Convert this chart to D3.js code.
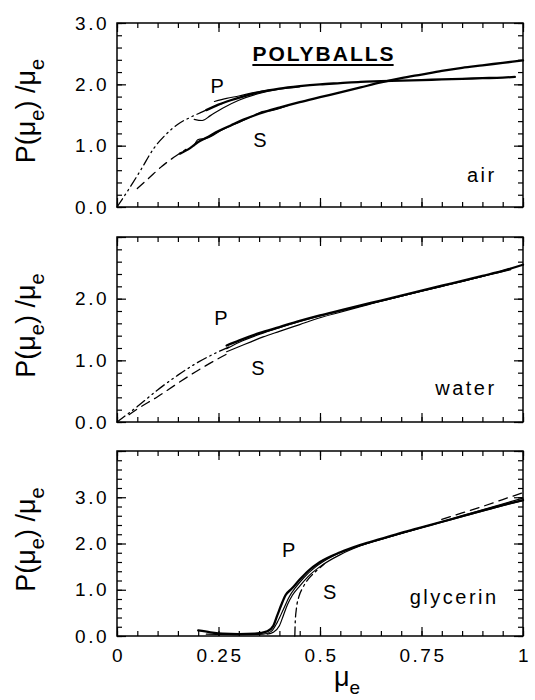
<!DOCTYPE html>
<html>
  <head>
    <style>
      body {
        margin: 0;
        background: #fff;
      }
      svg {
        font-family: "Liberation Sans", Arial, sans-serif;
      }
      .frame {
        fill: none;
        stroke: #000;
        stroke-width: 1.5px;
      }
      .ticks .tick line {
        stroke: #000;
        stroke-width: 1.2px;
      }
      .ticks .domain, .lbl .domain, .lbl .tick line {
        display: none;
      }
      .lbl text {
        font-size: 19px;
        letter-spacing: 2.5px;
        fill: #000;
      }
      .run {
        fill: none;
        stroke: #000;
        stroke-linejoin: round;
        stroke-linecap: round;
      }
      .note {
        font-size: 20px;
        letter-spacing: 2.5px;
      }
    </style>
  </head>
  <body>
    <script src="https://d3js.org/d3.v7.min.js"></script>
    <script>
    // values: [mu_e, P(mu_e)/mu_e]
    var panelNames = ["air", "water", "glycerin"];
    var yMax = [3, 3, 4];
    var yTickLabels = [["0.0", "1.0", "2.0", "3.0"], ["0.0", "1.0", "2.0"], ["0.0", "1.0", "2.0", "3.0"]];
    var xTickValues = [0, 0.25, 0.5, 0.75, 1];
    var xTickLabels = ["0", "0.25", "0.5", "0.75", "1"];

    // air
    var airPTheory = [[0, 0], [0.03, 0.3], [0.06, 0.62], [0.09, 0.95], [0.12, 1.18], [0.15, 1.35], [0.18, 1.46], [0.21, 1.55], [0.24, 1.64], [0.26, 1.69]];
    var airPRun1 = [[0.22, 1.58], [0.25, 1.67], [0.28, 1.74], [0.31, 1.8], [0.35, 1.87], [0.4, 1.93], [0.45, 1.97], [0.5, 2.0], [0.55, 2.02], [0.6, 2.04], [0.65, 2.05], [0.7, 2.06], [0.75, 2.07], [0.8, 2.08], [0.85, 2.09], [0.9, 2.1], [0.95, 2.11], [0.98, 2.12]];
    var airPRun2 = [[0.19, 1.43], [0.21, 1.41], [0.23, 1.49], [0.26, 1.61], [0.3, 1.74], [0.35, 1.85], [0.4, 1.92], [0.45, 1.96]];
    var airPRun3 = [[0.24, 1.72], [0.27, 1.77], [0.3, 1.81], [0.34, 1.87], [0.38, 1.91]];
    var airSTheory = [[0.05, 0.3], [0.08, 0.48], [0.11, 0.66], [0.14, 0.81], [0.17, 0.94]];
    var airSRun1 = [[0.155, 0.87], [0.18, 0.96], [0.2, 1.06], [0.22, 1.13], [0.25, 1.24], [0.28, 1.33], [0.31, 1.42], [0.35, 1.52], [0.4, 1.62], [0.45, 1.71], [0.5, 1.79], [0.55, 1.87], [0.6, 1.95], [0.65, 2.03], [0.7, 2.1], [0.75, 2.16], [0.8, 2.22], [0.85, 2.27], [0.9, 2.31], [0.95, 2.35], [1.0, 2.39]];
    var airSRun2 = [[0.19, 1.0], [0.2, 1.1], [0.22, 1.12], [0.26, 1.26], [0.3, 1.38], [0.34, 1.5], [0.36, 1.56], [0.38, 1.57], [0.42, 1.65]];

    // water
    var waterPTheory = [[0, 0], [0.05, 0.25], [0.1, 0.52], [0.15, 0.76], [0.2, 0.97], [0.25, 1.14], [0.28, 1.23]];
    var waterSTheory = [[0.03, 0.12], [0.05, 0.21], [0.1, 0.41], [0.15, 0.63], [0.2, 0.84], [0.25, 1.03], [0.27, 1.1]];
    var waterPRun1 = [[0.27, 1.24], [0.3, 1.32], [0.35, 1.44], [0.4, 1.54], [0.45, 1.64], [0.5, 1.73], [0.55, 1.81], [0.6, 1.89], [0.65, 1.97], [0.7, 2.05], [0.75, 2.13], [0.8, 2.21], [0.85, 2.29], [0.9, 2.37], [0.95, 2.45], [1.0, 2.55]];
    var waterPRun2 = [[0.27, 1.19], [0.3, 1.29], [0.35, 1.42], [0.4, 1.53], [0.45, 1.63], [0.5, 1.72], [0.6, 1.88], [0.7, 2.04], [0.8, 2.2], [0.9, 2.36], [0.97, 2.49]];
    var waterSRun1 = [[0.27, 1.14], [0.3, 1.22], [0.33, 1.3], [0.36, 1.38], [0.4, 1.47], [0.45, 1.58], [0.5, 1.69], [0.55, 1.78], [0.6, 1.87], [0.65, 1.96], [0.7, 2.04], [0.8, 2.2], [0.9, 2.36], [0.97, 2.47]];

    // glycerin
    var glyPRun1 = [[0.2, 0.12], [0.23, 0.08], [0.26, 0.05], [0.3, 0.04], [0.34, 0.05], [0.37, 0.1], [0.385, 0.22], [0.395, 0.45], [0.405, 0.68], [0.415, 0.88], [0.43, 1.02], [0.45, 1.22], [0.47, 1.4], [0.5, 1.6], [0.55, 1.81], [0.6, 1.97], [0.65, 2.1], [0.7, 2.23], [0.75, 2.35], [0.8, 2.47], [0.85, 2.59], [0.9, 2.71], [0.95, 2.83], [1.0, 2.94]];
    var glyPRun2 = [[0.22, 0.04], [0.3, 0.03], [0.36, 0.04], [0.38, 0.1], [0.395, 0.3], [0.41, 0.58], [0.425, 0.86], [0.44, 1.05], [0.46, 1.26], [0.49, 1.5], [0.53, 1.72], [0.58, 1.9], [0.65, 2.09], [0.75, 2.34], [0.85, 2.58], [0.95, 2.82], [1.0, 2.93]];
    var glySRun1 = [[0.37, 0.04], [0.385, 0.08], [0.4, 0.22], [0.41, 0.45], [0.42, 0.68], [0.432, 0.88], [0.45, 1.08], [0.47, 1.28], [0.5, 1.5], [0.55, 1.76], [0.6, 1.95], [0.7, 2.22], [0.8, 2.47], [0.9, 2.73], [1.0, 2.98]];
    var glySTheory = [[0.438, 0], [0.439, 0.3], [0.442, 0.6], [0.448, 0.85], [0.458, 1.05], [0.472, 1.24], [0.49, 1.4], [0.51, 1.55]];
    var glyUpper = [[0.8, 2.52], [0.85, 2.66], [0.9, 2.8], [0.95, 2.95], [1.0, 3.1]];

    var panelSeries = [
      [[airPTheory, "dashdotdot"], [airSTheory, "dashed"], [airPRun2, "thin"], [airPRun3, "thin"], [airPRun1, "thick"], [airSRun2, "thin"], [airSRun1, "thick"]],
      [[waterPTheory, "dashdotdot"], [waterSTheory, "dashed"], [waterSRun1, "thin"], [waterPRun2, "thin"], [waterPRun1, "thick"]],
      [[glyUpper, "dashed"], [glySTheory, "dashdot"], [glySRun1, "thin"], [glyPRun2, "thin"], [glyPRun1, "thick"]]
    ];

    // label spots, in data units
    var pLabelAt = [[0.25, 1.98], [0.259, 1.68], [0.426, 1.86]];
    var sLabelAt = [[0.355, 1.09], [0.35, 0.88], [0.527, 0.95]];
    var nameLabelAt = [[0.935, 0.41], [0.935, 0.44], [0.94, 0.69]];

    var styles = {
      thick: {w: 2.3, dash: null},
      thin: {w: 1.2, dash: null},
      dashed: {w: 1.3, dash: "9,6"},
      dashdotdot: {w: 1.3, dash: "10,4,1.5,4,1.5,4"},
      dashdot: {w: 1.3, dash: "9,4,2,4"}
    };

    var width = 535, height = 700;
    var left = 117, right = 523;
    var panelTop = [23, 237, 451], panelBottom = [207, 422, 636];

    var svg = d3.select("body").append("svg")
        .attr("width", width)
        .attr("height", height);

    var x_scale = d3.scaleLinear().domain([0, 1]).range([left, right]);
    var minorX = d3.range(0, 21).map(i => i * 0.05);
    var majorX = xTickValues;

    var line_generator = d3.line().curve(d3.curveMonotoneX);

    panelNames.forEach(function(name, i) {
      var y_scale = d3.scaleLinear().domain([0, yMax[i]]).range([panelBottom[i], panelTop[i]]);
      var g = svg.append("g");
      var minorY = d3.range(0, yMax[i] * 5 + 1).map(k => k * 0.2);
      var majorY = d3.range(0, yMax[i] + 1);

      // inward ticks on all four sides
      [[minorX, 5], [majorX, 9]].forEach(function(t) {
        g.append("g").attr("class", "ticks")
          .attr("transform", "translate(0," + panelBottom[i] + ")")
          .call(d3.axisBottom(x_scale).tickValues(t[0]).tickSize(-t[1]).tickFormat(""));
        g.append("g").attr("class", "ticks")
          .attr("transform", "translate(0," + panelTop[i] + ")")
          .call(d3.axisTop(x_scale).tickValues(t[0]).tickSize(-t[1]).tickFormat(""));
      });
      [[minorY, 5], [majorY, 9]].forEach(function(t) {
        g.append("g").attr("class", "ticks")
          .attr("transform", "translate(" + left + ",0)")
          .call(d3.axisLeft(y_scale).tickValues(t[0]).tickSize(-t[1]).tickFormat(""));
        g.append("g").attr("class", "ticks")
          .attr("transform", "translate(" + right + ",0)")
          .call(d3.axisRight(y_scale).tickValues(t[0]).tickSize(-t[1]).tickFormat(""));
      });

      g.append("rect").attr("class", "frame")
        .attr("x", left).attr("y", panelTop[i])
        .attr("width", right - left).attr("height", panelBottom[i] - panelTop[i]);

      // y tick labels
      var labs = yTickLabels[i];
      g.append("g").attr("class", "lbl")
        .attr("transform", "translate(" + (left - 8) + ",0)")
        .call(d3.axisLeft(y_scale).tickValues(labs.map(Number)).tickSize(0).tickPadding(0)
          .tickFormat((d, k) => labs[k]));

      if (i == 2) {
        g.append("g").attr("class", "lbl")
          .attr("transform", "translate(1," + (panelBottom[i] + 12) + ")")
          .call(d3.axisBottom(x_scale).tickValues(xTickValues).tickSize(0).tickPadding(0)
            .tickFormat((d, k) => xTickLabels[k]));
      }

      // curves
      line_generator.x(d => x_scale(d[0])).y(d => y_scale(d[1]));
      panelSeries[i].forEach(function(s) {
        var st = styles[s[1]];
        g.append("path").attr("class", "run")
          .attr("d", line_generator(s[0]))
          .attr("stroke-width", st.w)
          .attr("stroke-dasharray", st.dash);
      });

      // P / S / medium labels
      g.append("text").attr("class", "note")
        .attr("x", x_scale(pLabelAt[i][0])).attr("y", y_scale(pLabelAt[i][1]))
        .attr("text-anchor", "middle").attr("dominant-baseline", "central")
        .text("P");
      g.append("text").attr("class", "note")
        .attr("x", x_scale(sLabelAt[i][0])).attr("y", y_scale(sLabelAt[i][1]))
        .attr("text-anchor", "middle").attr("dominant-baseline", "central")
        .text("S");
      g.append("text").attr("class", "note")
        .attr("x", x_scale(nameLabelAt[i][0])).attr("y", y_scale(nameLabelAt[i][1]))
        .attr("text-anchor", "end")
        .text(name);

      // rotated y title
      var yt = svg.append("text")
        .attr("transform", "translate(35," + ((panelTop[i] + panelBottom[i]) / 2 - 4) + ") rotate(-90)")
        .attr("text-anchor", "middle")
        .style("font-size", "27px")
        .style("white-space", "pre");
      yt.append("tspan").text("P(\u03bc");
      yt.append("tspan").attr("dy", 9).style("font-size", "20px").text("e");
      yt.append("tspan").attr("dy", -9).text(") /\u03bc");
      yt.append("tspan").attr("dy", 9).style("font-size", "20px").text("e");
    });

    // title in the first panel
    var title = svg.append("text")
      .attr("x", 324).attr("y", 61)
      .attr("text-anchor", "middle")
      .style("font-size", "21px").style("font-weight", "bold").style("letter-spacing", "2px")
      .text("POLYBALLS");
    var bb = title.node().getBBox();
    svg.append("line")
      .attr("x1", bb.x).attr("x2", bb.x + bb.width - 2)
      .attr("y1", 65).attr("y2", 65)
      .attr("stroke", "#000").attr("stroke-width", 2.2);

    // x title
    var xt = svg.append("text").attr("x", 347).attr("y", 686)
      .attr("text-anchor", "middle").style("font-size", "27px");
    xt.append("tspan").text("\u03bc");
    xt.append("tspan").attr("dy", 8).style("font-size", "19px").text("e");
    </script>
  </body>
</html>
